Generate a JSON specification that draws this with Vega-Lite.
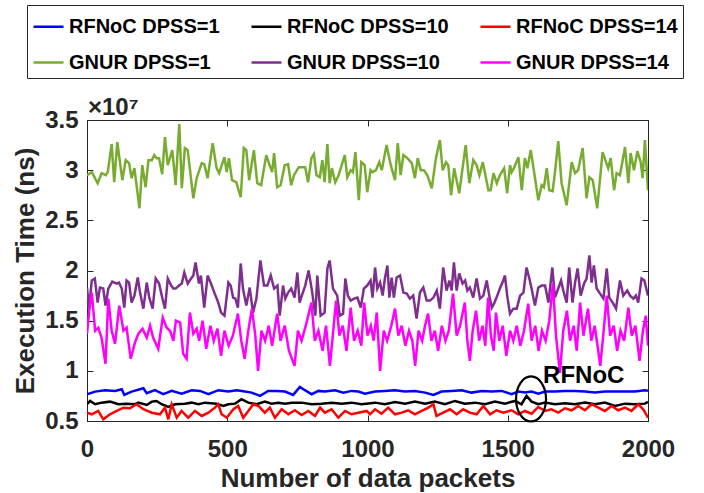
{
"$schema":"https://vega.github.io/schema/vega-lite/v6.json",
"width":561,"height":301,
"autosize":{"type":"none"},
"padding":{"left":87,"top":120,"right":56,"bottom":72},
"background":"white",
"config":{"font":"Liberation Sans","view":{"stroke":"#262626","strokeWidth":1},
 "axis":{"grid":false,"domainColor":"#262626","tickColor":"#262626","labelColor":"#262626","titleColor":"#262626","labelFont":"Liberation Sans","titleFont":"Liberation Sans","labelFontWeight":"bold","titleFontWeight":"bold","labelFontSize":24,"titleFontSize":26,"tickSize":-6,"domainWidth":1,"tickWidth":1,"labelFlush":false,"labelOverlap":false}},
"datasets":{"series":[
{"s":"RFNoC DPSS=1","x":[0,29,64,100,124,133,159,201,213,242,272,302,337,373,403,433,468,504,534,563,587,617,646,676,706,735,759,777,801,825,848,884,914,943,967,991,1027,1062,1098,1134,1169,1205,1235,1264,1300,1336,1371,1407,1442,1478,1514,1537,1561,1585,1609,1633,1668,1704,1739,1775,1811,1846,1882,1918,1953,1989,2000],
 "y":[0.767,0.793,0.807,0.80,0.817,0.76,0.793,0.827,0.777,0.807,0.767,0.80,0.773,0.807,0.80,0.767,0.807,0.793,0.807,0.793,0.783,0.75,0.80,0.80,0.793,0.76,0.84,0.807,0.767,0.80,0.793,0.807,0.783,0.80,0.793,0.773,0.793,0.80,0.807,0.793,0.80,0.783,0.76,0.793,0.80,0.807,0.783,0.80,0.793,0.80,0.767,0.793,0.783,0.793,0.773,0.793,0.793,0.80,0.80,0.793,0.783,0.793,0.793,0.793,0.793,0.807,0.80]},
{"s":"RFNoC DPSS=10","x":[0,11,29,52,82,112,141,171,183,213,231,248,266,290,314,349,373,397,421,462,486,504,528,551,575,605,634,658,682,706,730,765,801,836,872,908,943,979,1027,1062,1098,1134,1169,1205,1240,1276,1312,1347,1383,1419,1454,1490,1526,1549,1567,1585,1609,1633,1668,1704,1739,1775,1811,1846,1882,1918,1953,1989,2000],
 "y":[0.667,0.70,0.667,0.683,0.693,0.667,0.673,0.667,0.683,0.66,0.693,0.70,0.667,0.64,0.667,0.673,0.683,0.667,0.683,0.673,0.65,0.667,0.673,0.717,0.683,0.667,0.693,0.673,0.683,0.673,0.683,0.683,0.667,0.673,0.683,0.673,0.683,0.667,0.683,0.667,0.69,0.673,0.693,0.673,0.693,0.667,0.70,0.673,0.683,0.667,0.693,0.673,0.70,0.667,0.75,0.693,0.667,0.683,0.667,0.677,0.667,0.683,0.667,0.683,0.65,0.673,0.667,0.673,0.69]},
{"s":"RFNoC DPSS=14","x":[0,17,40,58,82,106,130,153,177,201,231,260,278,290,302,320,337,361,385,409,433,456,468,480,498,522,539,557,575,593,611,634,652,670,694,718,741,765,789,813,831,848,872,896,920,943,967,997,1009,1027,1050,1074,1098,1122,1145,1169,1193,1217,1235,1246,1270,1294,1318,1341,1365,1389,1413,1437,1460,1484,1514,1537,1561,1585,1609,1633,1656,1680,1704,1728,1751,1775,1799,1823,1846,1870,1894,1918,1941,1965,1983,2000],
 "y":[0.583,0.567,0.60,0.517,0.567,0.60,0.633,0.627,0.667,0.617,0.583,0.567,0.633,0.517,0.667,0.533,0.60,0.533,0.60,0.55,0.583,0.633,0.667,0.567,0.533,0.617,0.65,0.533,0.60,0.667,0.65,0.583,0.633,0.533,0.617,0.567,0.607,0.56,0.60,0.55,0.633,0.583,0.617,0.533,0.60,0.567,0.583,0.60,0.567,0.617,0.573,0.633,0.567,0.583,0.607,0.567,0.60,0.633,0.667,0.55,0.583,0.617,0.567,0.617,0.583,0.567,0.65,0.567,0.607,0.583,0.607,0.567,0.60,0.573,0.64,0.60,0.617,0.583,0.627,0.607,0.65,0.607,0.667,0.633,0.60,0.65,0.607,0.633,0.60,0.667,0.617,0.533]},
{"s":"GNUR DPSS=1","x":[0,17,38,52,67,74,88,97,108,126,138,150,159,169,187,197,209,219,231,240,248,257,268,278,288,304,316,329,338,349,359,379,391,409,418,430,448,462,471,490,498,506,517,532,548,559,568,578,595,607,621,639,651,660,667,678,690,705,717,728,738,755,770,778,788,800,809,818,830,839,847,857,865,873,885,897,919,928,940,948,957,969,978,990,999,1011,1018,1030,1042,1051,1068,1083,1098,1108,1118,1128,1142,1158,1169,1179,1190,1201,1213,1229,1244,1258,1268,1280,1288,1298,1309,1327,1350,1363,1377,1389,1399,1411,1431,1439,1449,1461,1472,1487,1498,1508,1514,1522,1538,1550,1561,1570,1582,1594,1609,1621,1629,1639,1648,1660,1668,1680,1692,1710,1728,1740,1751,1767,1781,1791,1803,1819,1838,1858,1867,1879,1888,1900,1918,1930,1938,1950,1962,1974,1981,1989,2000],
 "y":[2.95,2.98,2.87,2.97,2.95,2.98,3.26,2.88,3.28,2.90,3.10,3.07,2.92,3.02,2.62,3.05,2.83,3.10,3.10,3.15,3.12,3.12,2.96,3.33,3.05,3.20,2.85,3.46,2.82,3.22,3.20,2.72,2.92,3.07,3.06,2.92,3.27,3.02,2.97,3.13,2.98,3.12,2.90,2.88,2.73,3.22,3.20,2.90,3.20,2.87,2.85,3.15,3.05,2.98,3.17,2.83,2.85,3.05,3.06,2.85,2.95,3.03,3.03,3.03,2.88,3.12,3.16,2.95,2.93,3.10,2.88,3.26,2.87,3.02,2.88,2.95,3.15,2.93,3.00,2.98,3.18,2.70,3.08,3.05,2.78,3.00,2.98,3.00,3.08,3.00,3.25,3.05,2.90,3.27,2.95,3.15,3.12,3.07,2.92,3.12,3.00,3.00,2.95,2.82,3.12,3.30,3.00,3.08,3.05,2.75,3.02,2.77,3.25,2.87,3.10,3.05,2.95,3.08,2.80,2.80,2.97,2.87,2.95,3.02,2.77,3.05,2.98,3.02,3.13,2.80,3.12,3.02,3.20,2.98,2.70,2.85,2.83,3.02,2.80,2.79,2.97,3.29,2.87,2.65,3.08,2.97,3.00,3.22,2.72,2.93,2.90,2.62,3.18,3.02,3.12,2.80,2.97,2.95,3.23,2.87,3.17,3.00,3.19,3.08,2.92,3.30,2.80]},
{"s":"GNUR DPSS=10","x":[0,7,17,28,38,46,58,66,76,90,106,114,124,133,141,150,159,169,181,189,201,213,222,234,245,257,269,278,288,300,308,316,328,338,347,359,371,379,387,399,406,418,430,442,454,468,478,490,504,512,521,529,538,548,556,568,580,592,604,618,631,643,655,667,679,687,699,707,717,728,740,750,758,766,778,790,802,814,821,833,847,857,865,877,892,901,913,921,930,940,952,964,976,987,999,1011,1018,1027,1035,1045,1054,1062,1071,1078,1086,1094,1104,1116,1128,1140,1151,1163,1175,1187,1199,1211,1223,1235,1247,1258,1270,1282,1292,1300,1308,1318,1327,1339,1348,1356,1365,1377,1389,1401,1413,1425,1434,1443,1451,1460,1472,1484,1490,1498,1508,1520,1532,1544,1556,1567,1577,1585,1597,1609,1621,1633,1645,1659,1668,1680,1690,1698,1710,1719,1731,1740,1749,1760,1772,1781,1791,1799,1807,1817,1829,1841,1853,1862,1874,1886,1900,1912,1926,1936,1948,1957,1965,1977,1987,2000],
 "y":[1.83,1.62,1.90,1.92,1.68,1.83,1.82,1.65,1.82,1.89,1.87,1.88,1.82,1.63,1.90,1.88,1.68,1.75,1.93,1.78,1.62,1.88,1.73,1.62,1.92,1.87,1.72,1.62,1.92,1.85,1.82,1.82,1.85,1.87,1.98,1.87,1.92,1.95,2.08,1.87,1.95,1.63,1.95,1.87,1.78,1.68,1.58,1.55,1.88,1.85,1.73,1.72,1.63,2.07,1.82,1.65,1.83,1.58,1.72,2.10,1.85,1.85,1.95,1.82,1.85,1.55,1.85,1.72,1.78,1.82,1.73,1.98,1.68,1.75,1.85,2.00,1.80,1.55,1.95,1.55,1.58,2.02,2.10,1.82,1.75,1.55,1.57,1.92,1.75,1.70,1.72,1.73,1.63,1.82,1.85,1.90,1.73,2.03,1.82,1.88,1.75,1.92,2.05,1.73,1.93,1.73,1.93,1.95,1.78,1.77,1.72,1.75,1.52,1.78,1.83,1.70,1.70,1.73,1.80,1.62,2.03,1.80,1.90,1.80,2.08,1.80,1.97,1.87,1.90,1.80,1.83,1.73,1.92,1.72,1.75,1.90,1.75,1.63,1.67,1.73,1.82,1.90,1.95,1.75,1.57,1.62,1.62,1.75,1.78,2.03,1.92,1.82,1.65,1.83,1.85,1.85,1.68,2.03,1.73,1.82,1.90,1.80,1.68,2.03,1.68,1.88,2.02,1.75,1.87,1.92,2.15,1.88,2.05,1.82,1.77,1.72,2.02,1.73,1.68,1.62,1.90,1.75,1.80,1.75,1.72,1.75,1.68,1.92,1.90,1.75]},
{"s":"GNUR DPSS=14","x":[0,8,17,29,40,52,66,76,88,100,115,130,141,156,171,183,198,213,225,236,254,270,284,296,308,317,332,343,355,367,379,391,400,412,425,440,452,465,478,490,505,520,538,550,562,575,588,600,610,622,635,648,660,678,690,705,720,740,752,765,780,800,812,825,840,852,866,878,888,900,912,925,940,952,965,978,988,1000,1012,1022,1033,1045,1058,1070,1085,1098,1110,1122,1135,1148,1160,1170,1182,1195,1205,1216,1228,1240,1252,1265,1278,1290,1305,1318,1330,1347,1356,1365,1375,1387,1398,1410,1420,1430,1440,1450,1458,1470,1482,1495,1508,1520,1532,1545,1558,1573,1585,1598,1610,1622,1635,1648,1661,1672,1686,1698,1711,1722,1735,1746,1758,1770,1786,1798,1810,1820,1830,1842,1853,1865,1878,1890,1902,1915,1930,1942,1955,1970,1982,1992,2000],
 "y":[1.37,1.60,1.78,1.40,1.43,1.33,1.07,1.72,1.40,1.27,1.65,1.40,1.43,1.12,1.28,1.37,1.42,1.33,1.45,1.33,1.22,1.53,1.43,1.40,1.30,1.50,1.48,1.17,1.12,1.58,1.37,1.42,1.30,1.50,1.22,1.45,1.30,1.42,1.15,1.40,1.25,1.35,1.57,1.30,1.12,1.40,1.62,1.35,1.00,1.40,1.30,1.45,1.25,1.57,1.30,1.45,1.20,1.05,1.40,1.30,1.45,1.68,1.30,1.40,1.20,1.45,1.05,1.40,1.70,1.35,1.45,1.20,1.63,1.30,1.40,1.25,1.68,1.35,1.45,1.30,1.58,1.00,1.40,1.30,1.45,1.62,1.35,1.45,1.25,1.40,1.30,1.05,1.40,1.30,1.45,1.57,1.30,1.40,1.20,1.45,1.30,1.40,1.77,1.35,1.45,1.68,1.30,1.10,1.40,1.60,1.30,1.45,1.25,1.73,1.35,1.20,1.58,1.30,1.45,1.15,1.40,1.30,1.45,1.25,1.40,1.67,1.30,1.45,1.20,1.40,1.30,1.50,1.87,1.35,0.98,1.40,1.60,1.30,1.45,1.20,1.68,1.35,1.62,1.30,1.45,1.25,1.05,1.40,1.75,1.35,1.45,1.20,1.40,1.30,1.63,1.35,1.45,1.10,1.40,1.55,1.25]}
]},
"layer":[
 {"data":{"name":"series"},"transform":[{"flatten":["x","y"]}],
  "mark":{"type":"line","strokeWidth":2.5,"clip":true},
  "encoding":{
   "x":{"field":"x","type":"quantitative","scale":{"domain":[0,2000],"nice":false},
        "axis":{"values":[0,500,1000,1500,2000],"format":"d","title":"Number of data packets","labelPadding":22,"titlePadding":4}},
   "y":{"field":"y","type":"quantitative","scale":{"domain":[0.5,3.5],"nice":false,"zero":false},
        "axis":{"values":[0.5,1,1.5,2,2.5,3,3.5],"format":"~g","title":"Execution Time (ns)","labelPadding":15,"titlePadding":6}},
   "color":{"field":"s","type":"nominal",
     "scale":{"domain":["RFNoC DPSS=1","RFNoC DPSS=10","RFNoC DPSS=14","GNUR DPSS=1","GNUR DPSS=10","GNUR DPSS=14"],
              "range":["#0000FF","#000000","#FF0000","#77AC30","#7E2F8E","#FF00FF"]},
     "legend":{"orient":"none","legendX":-60,"legendY":-115,"direction":"horizontal","columns":3,"title":null,
       "strokeColor":"#262626","fillColor":"white","padding":5,"symbolType":"stroke","symbolStrokeWidth":2.5,"symbolSize":900,
       "labelFont":"Liberation Sans","labelFontSize":20,"labelFontWeight":"bold","labelColor":"#000000","labelLimit":400,
       "columnPadding":26,"rowPadding":9}}
  }},
 {"data":{"name":"series"},"transform":[{"flatten":["x","y"]}],
  "mark":{"type":"line","opacity":0},
  "encoding":{
   "x":{"field":"x","type":"quantitative","axis":{"orient":"top","labels":false,"title":null,"values":[0,500,1000,1500,2000]}},
   "y":{"field":"y","type":"quantitative","axis":{"orient":"right","labels":false,"title":null,"values":[0.5,1,1.5,2,2.5,3,3.5]}},
   "detail":{"field":"s"}
  }},
 {"data":{"values":[{"x":1583,"y":0.72}]},
  "mark":{"type":"point","shape":"M0,-1.5C0.5523,-1.5,1,-0.8284,1,0C1,0.8284,0.5523,1.5,0,1.5C-0.5523,1.5,-1,0.8284,-1,0C-1,-0.8284,-0.5523,-1.5,0,-1.5Z","size":900,"filled":false,"stroke":"#000000","strokeWidth":2.2,"opacity":1},
  "encoding":{"x":{"field":"x","type":"quantitative","axis":null},"y":{"field":"y","type":"quantitative","axis":null}}},
 {"data":{"values":[{"x":1626,"y":0.95,"t":"RFNoC"}]},
  "mark":{"type":"text","align":"left","baseline":"middle","fontSize":24,"fontWeight":"bold","font":"Liberation Sans","color":"#000000"},
  "encoding":{"x":{"field":"x","type":"quantitative","axis":null},"y":{"field":"y","type":"quantitative","axis":null},"text":{"field":"t"}}},
 {"data":{"values":[{"x":0,"y":3.5,"t":"×10⁷"}]},
  "mark":{"type":"text","align":"left","baseline":"alphabetic","dy":-5,"dx":1,"fontSize":24,"fontWeight":"bold","font":"Liberation Sans","color":"#262626"},
  "encoding":{"x":{"field":"x","type":"quantitative","axis":null},"y":{"field":"y","type":"quantitative","axis":null},"text":{"field":"t"}}}
],
"resolve":{"axis":{"x":"independent","y":"independent"}}
}
